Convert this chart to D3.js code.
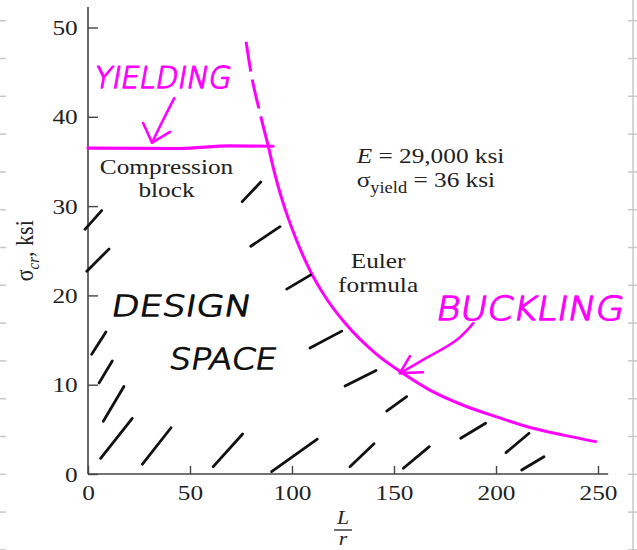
<!DOCTYPE html>
<html>
<head>
<meta charset="utf-8">
<script src="https://cdn.jsdelivr.net/npm/d3@7"></script>
<style>
  body { margin: 0; background: #fff; }
  svg { display: block; }
</style>
</head>
<body>
<div id="chart"></div>
<script>
// tick labels
var xTicks = [0, 50, 100, 150, 200, 250];
var yTicks = [0, 10, 20, 30, 40, 50];

// Euler curve, [L/r, sigma_cr]
var eulerDashed = [[77.5, 48.4], [80, 44.8], [84, 40.7], [88.5, 36.6]];
var eulerSolid = [[88.5, 36.6], [90.8, 34.3], [95.7, 30.3], [101.5, 26.6], [108.8, 22.8],
  [117.0, 19.6], [126.0, 16.9], [141.5, 13.4], [152.9, 11.5], [167.6, 9.4], [184.0, 7.7],
  [200.3, 6.4], [216.7, 5.2], [233.0, 4.35], [249.4, 3.6]];

// hand drawn yield line
var yieldLine = [[0, 36.5], [45, 36.45], [69.6, 36.75], [90.7, 36.7]];

// hand drawn hatching of the design space [x1, y1, x2, y2]
var hatches = [
  [-1.5, 27.4, 6.7, 29.5], [-0.6, 22.7, 10.3, 25.2], [75.6, 30.5, 84.7, 32.7],
  [79.8, 25.5, 94.1, 27.7], [97.4, 20.7, 109.2, 22.3], [108.8, 14.1, 124.4, 16.0],
  [126.0, 9.85, 141.2, 11.6], [146.4, 7.05, 156.2, 8.66], [90.0, 0.26, 112.4, 3.9],
  [128.4, 0.8, 140.2, 3.4], [154.6, 0.64, 167.3, 3.06], [1.8, 13.4, 8.8, 15.9],
  [5.4, 10.2, 11.9, 12.65], [7.5, 5.9, 17.6, 9.8], [6.2, 1.76, 21.7, 6.24],
  [26.6, 1.09, 40.7, 5.18], [61.4, 0.82, 75.8, 4.48], [182.7, 4.0, 194.9, 5.68],
  [204.9, 2.39, 216.2, 4.56], [212.6, 0.45, 223.5, 1.94]
];

// hand drawn arrows
var yieldArrow = [[42.3, 42.1], [36.5, 39.5], [31.4, 37.1]];
var yieldHead = [[27.0, 39.3], [31.4, 37.1], [40.2, 38.3]];
var buckleArrow = [[188.9, 16.9], [180.7, 15.0], [164.4, 12.8], [152.9, 11.3]];
var buckleHead = [[157.8, 13.2], [152.9, 11.3], [164.2, 11.4]];

var width = 637, height = 550;
var magenta = "#ff00ff";
var serif = "'Liberation Serif', 'Times New Roman', serif";
var hand = "'DejaVu Sans', sans-serif";

var x = d3.scaleLinear().domain([0, 250]).range([88, 598]);
var y = d3.scaleLinear().domain([0, 50]).range([474, 27.5]);

var svg = d3.select("#chart").append("svg")
    .attr("width", width)
    .attr("height", height);

// faint ruler marks at the page edges (screenshot frame)
var ruler = d3.range(20.7, height, 37.8);
svg.append("line")
    .attr("x1", 633).attr("x2", 633).attr("y1", 0).attr("y2", height)
    .attr("stroke", "#c8c8c8").attr("stroke-width", 1.5);
svg.selectAll(".rulerR").data(ruler).enter().append("line")
    .attr("x1", 628).attr("x2", 637)
    .attr("y1", function (d) { return d; }).attr("y2", function (d) { return d; })
    .attr("stroke", "#c8c8c8").attr("stroke-width", 1.5);
svg.selectAll(".rulerL").data(ruler).enter().append("line")
    .attr("x1", 0).attr("x2", 6)
    .attr("y1", function (d) { return d; }).attr("y2", function (d) { return d; })
    .attr("stroke", "#c8c8c8").attr("stroke-width", 1.5);

// axes
var xAxis = svg.append("g")
    .attr("transform", "translate(0," + y(0) + ")")
    .call(d3.axisBottom(x).tickValues(xTicks).tickSizeInner(-8).tickSizeOuter(0).tickPadding(10));
var yAxis = svg.append("g")
    .attr("transform", "translate(" + x(0) + ",0)")
    .call(d3.axisLeft(y).tickValues(yTicks).tickSizeInner(-10).tickSizeOuter(0).tickPadding(9));

[xAxis, yAxis].forEach(function (ax) {
  ax.select(".domain").remove();
  ax.selectAll(".tick line").attr("stroke", "#444").attr("stroke-width", 1.4);
  ax.selectAll(".tick text")
      .attr("font-family", serif)
      .attr("font-size", 22)
      .attr("fill", "#222")
      .attr("transform", "scale(1.15,1)");
});

svg.append("line")
    .attr("x1", x(0)).attr("x2", x(255))
    .attr("y1", y(0)).attr("y2", y(0))
    .attr("stroke", "#444").attr("stroke-width", 1.6);
svg.append("line")
    .attr("x1", x(0)).attr("x2", x(0))
    .attr("y1", y(0)).attr("y2", y(52.3))
    .attr("stroke", "#444").attr("stroke-width", 1.6);

// axis titles
var yTitle = svg.append("text")
    .attr("transform", "translate(33," + y(25) + ") scale(1.15,1) rotate(-90)")
    .attr("text-anchor", "middle")
    .attr("font-family", serif)
    .attr("font-size", 22)
    .attr("fill", "#222");
yTitle.append("tspan").text("σ");
yTitle.append("tspan").attr("font-style", "italic").attr("font-size", 15).attr("dy", 5).text("cr");
yTitle.append("tspan").attr("dy", -5).text(", ksi");

// L over r, fraction bar in between
var xMid = (x(0) + x(250)) / 2;
[["L", 524], ["r", 545]].forEach(function (t) {
  svg.append("text")
      .attr("transform", "translate(" + xMid + "," + t[1] + ") scale(1.15,1)")
      .attr("text-anchor", "middle")
      .attr("font-family", serif).attr("font-style", "italic")
      .attr("font-size", 19).attr("fill", "#222")
      .text(t[0]);
});
svg.append("line")
    .attr("x1", xMid - 9).attr("x2", xMid + 9)
    .attr("y1", 530).attr("y2", 530)
    .attr("stroke", "#222").attr("stroke-width", 1.3);

// printed labels
function label(px, py, anchor, str) {
  return svg.append("text")
      .attr("transform", "translate(" + x(px) + "," + y(py) + ") scale(1.15,1)")
      .attr("text-anchor", anchor)
      .attr("font-family", serif)
      .attr("font-size", 22)
      .attr("fill", "#222")
      .text(str);
}
label(38.5, 33.6, "middle", "Compression");
label(38.5, 31.0, "middle", "block");
label(142.2, 23.1, "middle", "Euler");
label(142.2, 20.4, "middle", "formula");

var eText = label(131.7, 34.8, "start", null);
eText.append("tspan").attr("font-style", "italic").text("E");
eText.append("tspan").text(" = 29,000 ksi");
var sText = label(131.7, 32.1, "start", null);
sText.append("tspan").text("σ");
sText.append("tspan").attr("font-size", 16).attr("dy", 6).text("yield");
sText.append("tspan").attr("dy", -6).text(" = 36 ksi");

// curves
var line = d3.line()
    .x(function (d) { return x(d[0]); })
    .y(function (d) { return y(d[1]); })
    .curve(d3.curveMonotoneX);

svg.append("path")
    .datum(eulerDashed)
    .attr("d", line)
    .attr("fill", "none")
    .attr("stroke", magenta)
    .attr("stroke-width", 3)
    .attr("stroke-dasharray", "30,8");

svg.append("path")
    .datum(eulerSolid)
    .attr("d", line)
    .attr("fill", "none")
    .attr("stroke", magenta)
    .attr("stroke-width", 3);

svg.append("path")
    .datum(yieldLine)
    .attr("d", line)
    .attr("fill", "none")
    .attr("stroke", magenta)
    .attr("stroke-width", 3.2)
    .attr("stroke-linecap", "round");

// hatching
svg.selectAll(".hatch")
    .data(hatches)
    .enter().append("line")
    .attr("class", "hatch")
    .attr("x1", function (d) { return x(d[0]); })
    .attr("y1", function (d) { return y(d[1]); })
    .attr("x2", function (d) { return x(d[2]); })
    .attr("y2", function (d) { return y(d[3]); })
    .attr("stroke", "#111")
    .attr("stroke-width", 2.8)
    .attr("stroke-linecap", "round");

// arrows
var arrowLine = d3.line()
    .x(function (d) { return x(d[0]); })
    .y(function (d) { return y(d[1]); });
[[yieldArrow, yieldHead], [buckleArrow, buckleHead]].forEach(function (a) {
  svg.append("path")
      .datum(a[0])
      .attr("d", arrowLine.curve(d3.curveCatmullRom))
      .attr("fill", "none")
      .attr("stroke", magenta)
      .attr("stroke-width", 2.6)
      .attr("stroke-linecap", "round");
  svg.append("path")
      .datum(a[1])
      .attr("d", arrowLine.curve(d3.curveLinear))
      .attr("fill", "none")
      .attr("stroke", magenta)
      .attr("stroke-width", 2.6)
      .attr("stroke-linejoin", "round")
      .attr("stroke-linecap", "round");
});

// handwriting
function handText(x0, x1, py, size, color, str) {
  svg.append("text")
      .attr("transform", "translate(" + x(x0) + "," + y(py) + ") skewX(-10)")
      .attr("textLength", x(x1) - x(x0))
      .attr("lengthAdjust", "spacingAndGlyphs")
      .attr("font-family", hand)
      .attr("font-weight", 200)
      .attr("font-size", size)
      .attr("fill", color)
      .attr("stroke", color)
      .attr("stroke-width", 1.3)
      .attr("stroke-linejoin", "round")
      .text(str);
}
handText(2.5, 69.6, 43.2, 30, magenta, "YIELDING");
handText(170, 262, 17.2, 33, magenta, "BUCKLING");
handText(10.8, 79.4, 17.7, 29, "#111", "DESIGN");
handText(39.2, 91.7, 11.8, 29, "#111", "SPACE");
</script>
</body>
</html>
